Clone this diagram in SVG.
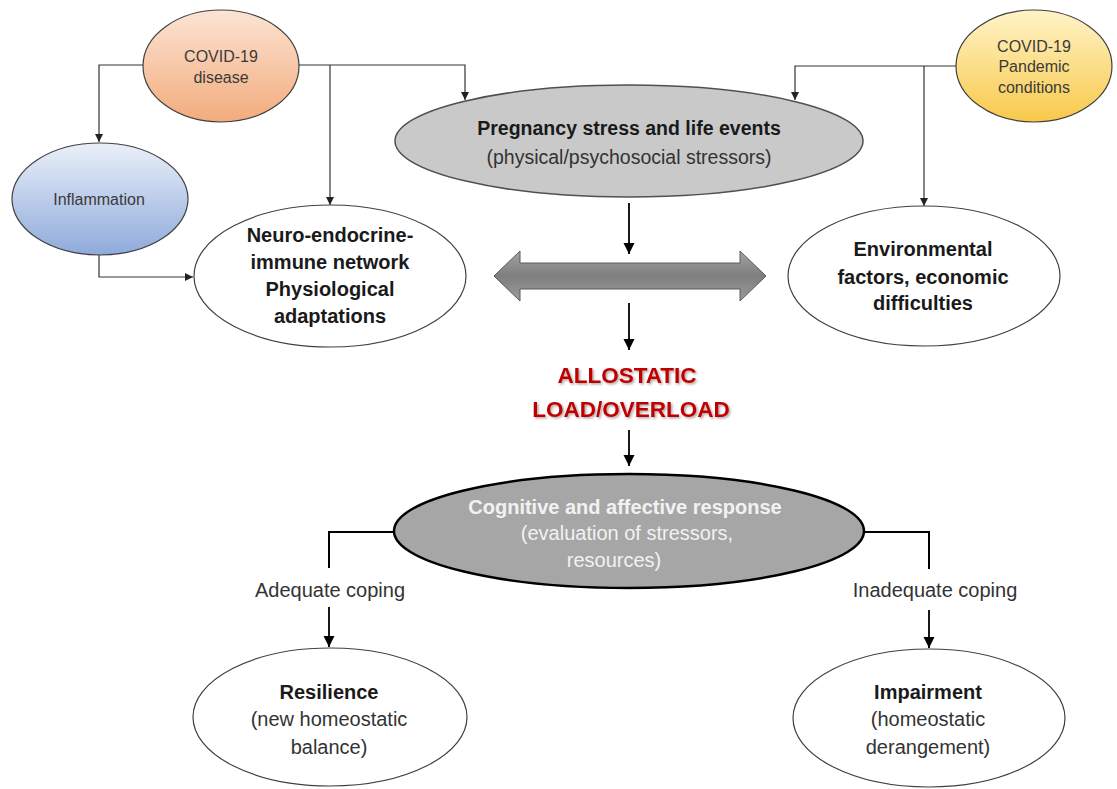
<svg xmlns="http://www.w3.org/2000/svg" width="1117" height="789" viewBox="0 0 1117 789">
<style>
.t{font-family:"Liberation Sans",Arial,sans-serif;text-anchor:middle}
.sm{font-size:16px;fill:#3a3a3a}
.b{font-size:20px;font-weight:bold;fill:#1a1a1a}
.r{font-size:20px;fill:#333}
.node{stroke:#404040;stroke-width:1.2}
.thin{fill:none;stroke:#333;stroke-width:1.2}
.thick{fill:none;stroke:#000;stroke-width:1.8}
.red{font-size:22.5px;font-weight:bold;fill:#C00000}
</style>
<defs>
<linearGradient id="gOrange" x1="0" y1="0" x2="0" y2="1"><stop offset="0" stop-color="#FCE4D4"/><stop offset="1" stop-color="#F2AC7C"/></linearGradient>
<linearGradient id="gBlue" x1="0" y1="0" x2="0" y2="1"><stop offset="0" stop-color="#EAF0F9"/><stop offset="1" stop-color="#8FAADB"/></linearGradient>
<linearGradient id="gYellow" x1="0" y1="0" x2="0" y2="1"><stop offset="0" stop-color="#FFF3C8"/><stop offset="1" stop-color="#F8C94A"/></linearGradient>
<linearGradient id="gArrow" x1="0" y1="0" x2="0" y2="1"><stop offset="0" stop-color="#A3A3A3"/><stop offset="0.5" stop-color="#7E7E7E"/><stop offset="1" stop-color="#9C9C9C"/></linearGradient>
<marker id="ah" viewBox="0 0 10 10" refX="10" refY="5" markerWidth="8" markerHeight="9" markerUnits="userSpaceOnUse" orient="auto"><path d="M0,0 L10,5 L0,10 z" fill="#222"/></marker>
<marker id="ahb" viewBox="0 0 10 10" refX="10" refY="5" markerWidth="11" markerHeight="12" markerUnits="userSpaceOnUse" orient="auto"><path d="M0,0 L10,5 L0,10 z" fill="#000"/></marker>
<filter id="shadow" x="-10%" y="-30%" width="120%" height="160%"><feDropShadow dx="1.5" dy="1.5" stdDeviation="1" flood-color="#000" flood-opacity="0.35"/></filter>
</defs>

<g id="connectors">
<path class="thin" d="M143,65 H99 V142" marker-end="url(#ah)"/>
<path class="thin" d="M299,65 H465 V100" marker-end="url(#ah)"/>
<path class="thin" d="M330,65 V205" marker-end="url(#ah)"/>
<path class="thin" d="M99,255 V277 H193" marker-end="url(#ah)"/>
<path class="thin" d="M956,66 H795 V100" marker-end="url(#ah)"/>
<path class="thin" d="M924,66 V206" marker-end="url(#ah)"/>
<path class="thick" d="M629,203 V254" marker-end="url(#ahb)"/>
<path class="thick" d="M629,303 V350" marker-end="url(#ahb)"/>
<path class="thick" d="M629,430 V466" marker-end="url(#ahb)"/>
<path fill="none" stroke="#000" stroke-width="2" d="M395,532 H329 V568"/>
<path fill="none" stroke="#000" stroke-width="2" d="M864,532 H929 V569"/>
<path class="thick" d="M329,607 V647" marker-end="url(#ahb)"/>
<path class="thick" d="M929,610 V648" marker-end="url(#ahb)"/>
<polygon id="double-arrow" points="494,276 520,251 520,263 740,263 740,251 766,276 740,301 740,289 520,289 520,301" fill="url(#gArrow)" stroke="#5a5a5a" stroke-width="1"/>
</g>

<g id="covid-disease">
<ellipse class="node" cx="221" cy="66" rx="78" ry="56" fill="url(#gOrange)"/>
<text class="t sm" x="221" y="62">COVID-19</text>
<text class="t sm" x="221" y="83">disease</text>
</g>

<g id="inflammation">
<ellipse class="node" cx="100" cy="199" rx="88" ry="56" fill="url(#gBlue)"/>
<text class="t sm" x="99" y="205">Inflammation</text>
</g>

<g id="covid-pandemic">
<ellipse class="node" cx="1034" cy="66" rx="78" ry="56" fill="url(#gYellow)"/>
<text class="t sm" x="1034" y="52">COVID-19</text>
<text class="t sm" x="1034" y="72">Pandemic</text>
<text class="t sm" x="1034" y="93">conditions</text>
</g>

<g id="pregnancy-stress">
<ellipse cx="629" cy="141" rx="234" ry="56" fill="#C9C9C9" stroke="#505050" stroke-width="1.5"/>
<text class="t" x="629" y="135" font-size="19.5" font-weight="bold" fill="#1a1a1a">Pregnancy stress and life events</text>
<text class="t" x="629" y="164" font-size="19.5" fill="#333">(physical/psychosocial stressors)</text>
</g>

<g id="neuro-endocrine">
<ellipse class="node" cx="330" cy="276" rx="136" ry="71" fill="#fff"/>
<text class="t b" x="330" y="242">Neuro-endocrine-</text>
<text class="t b" x="330" y="269">immune network</text>
<text class="t b" x="330" y="296">Physiological</text>
<text class="t b" x="330" y="323">adaptations</text>
</g>

<g id="environmental">
<ellipse class="node" cx="924" cy="276" rx="136" ry="70" fill="#fff"/>
<text class="t b" x="923" y="256">Environmental</text>
<text class="t b" x="923" y="284">factors, economic</text>
<text class="t b" x="923" y="310">difficulties</text>
</g>

<g id="allostatic-load" filter="url(#shadow)">
<text class="t red" x="627" y="383">ALLOSTATIC</text>
<text class="t red" x="631" y="417">LOAD/OVERLOAD</text>
</g>

<g id="cognitive-response">
<ellipse cx="629" cy="531" rx="235" ry="57" fill="#A6A6A6" stroke="#000" stroke-width="2.5"/>
<text class="t" x="625" y="514" font-size="20" font-weight="bold" fill="#F2F2F2">Cognitive and affective response</text>
<text class="t" x="627" y="540" font-size="20" fill="#F2F2F2">(evaluation of stressors,</text>
<text class="t" x="614" y="567" font-size="20" fill="#F2F2F2">resources)</text>
</g>

<g id="coping-labels">
<text class="t r" x="330" y="597">Adequate coping</text>
<text class="t r" x="935" y="597">Inadequate coping</text>
</g>

<g id="resilience">
<ellipse class="node" cx="330" cy="717" rx="137" ry="69" fill="#fff"/>
<text class="t b" x="329" y="699">Resilience</text>
<text class="t r" x="329" y="726">(new homeostatic</text>
<text class="t r" x="329" y="754">balance)</text>
</g>

<g id="impairment">
<ellipse class="node" cx="929" cy="718" rx="136" ry="69" fill="#fff"/>
<text class="t b" x="928" y="699">Impairment</text>
<text class="t r" x="928" y="726">(homeostatic</text>
<text class="t r" x="928" y="754">derangement)</text>
</g>
</svg>
